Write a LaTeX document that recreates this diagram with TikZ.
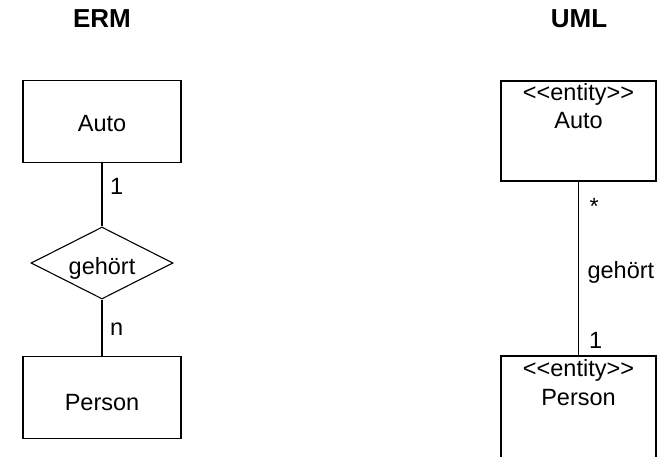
\documentclass[tikz,border=0pt]{standalone}
\usepackage{fontspec}
\setmainfont{Liberation Sans}
\usetikzlibrary{shapes.geometric}
\begin{document}
\begin{tikzpicture}[x=1pt,y=-1pt,line width=1.1pt,
  txt/.style={font=\fontsize{23.5}{28}\selectfont, inner sep=0pt},
  head/.style={font=\fontsize{26}{30}\selectfont\bfseries, inner sep=0pt, anchor=base},
  ermbox/.style={draw, rectangle, minimum width=158pt, minimum height=82pt, inner sep=0pt},
  umlbox/.style={draw, rectangle, minimum width=155pt, inner sep=0pt},
  relbox/.style={draw, diamond, minimum width=142pt, minimum height=72pt, aspect=1.97, inner sep=0pt},
  mult/.style={txt, anchor=base west}]
\useasboundingbox (0,0) rectangle (666,457);
\clip (0,0) rectangle (666,457);
% headings
\node[head] (herm) at (102,28) {ERM};
\node[head] (huml) at (579,28) {UML};
% ERM
\node[ermbox] (ea) at (102,121.5) {};
\node[txt, anchor=base] (eatxt) at (102,132) {Auto};
\node[relbox] (dia) at (102,263) {};
\node[txt, anchor=base] (diatxt) at (102,274) {gehört};
\node[ermbox] (ep) at (102,397.5) {};
\node[txt, anchor=base] (eptxt) at (102,410) {Person};
\draw (ea.south) -- (dia.north);
\draw (dia.south) -- (ep.north);
\node[mult] (m1) at (109.5,194) {1};
\node[mult] (mn) at (109.5,335) {n};
% UML
\node[umlbox, minimum height=100pt] (ua) at (578.5,131) {};
\node[txt, anchor=base] (uast) at (578.5,101) {<{}<entity>{}>};
\node[txt, anchor=base] (uatxt) at (578.5,129) {Auto};
\node[umlbox, minimum height=130pt] (up) at (578.5,421) {};
\node[txt, anchor=base] (upst) at (578.5,376) {<{}<entity>{}>};
\node[txt, anchor=base] (uptxt) at (578.5,405) {Person};
\draw (ua.south) -- (up.north);
\node[mult] (ustar) at (589,214) {*};
\node[mult] (urel) at (587,278) {gehört};
\node[mult] (uone) at (588.5,348) {1};
\end{tikzpicture}
\end{document}
